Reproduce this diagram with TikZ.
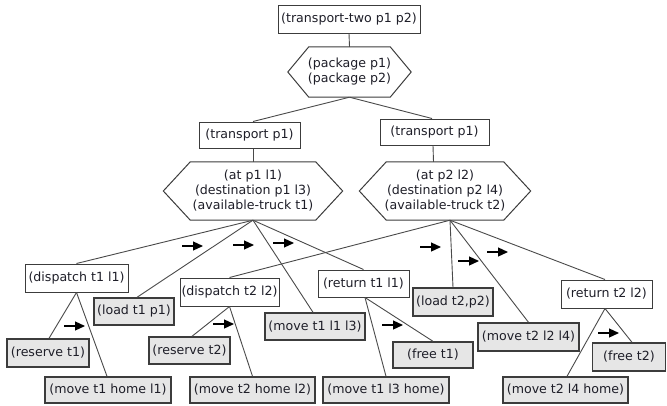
\documentclass[tikz,border=0pt]{standalone}
\usepackage{fontspec}
\setmainfont{DejaVu Sans}
\usetikzlibrary{arrows.meta}
\definecolor{boxline}{HTML}{3C3C3C}
\definecolor{linkc}{HTML}{4A4A4A}
\definecolor{grayfill}{HTML}{E6E6E6}
\definecolor{txt}{HTML}{1E1E28}
\tikzset{
  base/.style={rectangle, inner sep=0pt, text=txt, align=center,
    font=\fontsize{12.6}{15}\selectfont},
  wbox/.style={base, draw=boxline, line width=1pt, fill=white, minimum height=27},
  gbox/.style={base, draw=boxline, line width=1.4pt, fill=grayfill, minimum height=27},
  hexnode/.style={base},
  link/.style={draw=linkc, line width=0.9pt},
  ordarrow/.style={line width=1.2pt, -{Triangle[length=10pt,width=9pt]}},
}
\newcommand\drawhex[2]{%
  \draw[boxline, line width=1pt, fill=white]
    (#1.north west) -- (#1.north east) -- ([xshift=#2]#1.east) --
    (#1.south east) -- (#1.south west) -- ([xshift=-#2]#1.west) -- cycle;}
\begin{document}
\begin{tikzpicture}[x=1pt,y=-1pt]
\useasboundingbox (0,0) rectangle (667,405);
% hexagon nodes (invisible boxes, hexagon drawn around)
\node[hexnode, minimum width=81, minimum height=50] (pkg) at (349.5,72) {};
\node[hexnode, minimum width=125, minimum height=58] (hexL) at (253,191) {};
\node[hexnode, minimum width=117, minimum height=58] (hexR) at (445,191) {};
\drawhex{pkg}{21}
\drawhex{hexL}{27}
\drawhex{hexR}{27}
\node[hexnode] at (pkg) {(package p1)\\(package p2)};
\node[hexnode] at (hexL) {(at p1 l1)\\(destination p1 l3)\\(available-truck t1)};
\node[hexnode] at (hexR) {(at p2 l2)\\(destination p2 l4)\\(available-truck t2)};
% boxes
\node[wbox, minimum width=142, minimum height=28] (root) at (349,19) {(transport-two p1 p2)};
\node[wbox, minimum width=101, minimum height=26] (tL) at (249.5,135) {(transport p1)};
\node[wbox, minimum width=109, minimum height=26] (tR) at (434.5,132) {(transport p1)};
\node[wbox, minimum width=103, minimum height=28] (d1) at (76.5,278) {(dispatch t1 l1)};
\node[gbox, minimum width=80] (load1) at (134,311.5) {(load t1 p1)};
\node[wbox, minimum width=99, minimum height=28] (d2) at (229.5,292) {(dispatch t2 l2)};
\node[gbox, minimum width=82, minimum height=28] (res1) at (48,353) {(reserve t1)};
\node[gbox, minimum width=81] (res2) at (189.5,350.5) {(reserve t2)};
\node[gbox, minimum width=126, minimum height=26] (mh1) at (108,390) {(move t1 home l1)};
\node[gbox, minimum width=125, minimum height=26] (mh2) at (252.5,390) {(move t2 home l2)};
\node[gbox, minimum width=100] (m13) at (315,326.5) {(move t1 l1 l3)};
\node[wbox, minimum width=91] (ret1) at (363.5,283.5) {(return t1 l1)};
\node[gbox, minimum width=80, minimum height=28] (load2) at (453,302) {(load t2,p2)};
\node[gbox, minimum width=80, minimum height=26] (free1) at (433,355) {(free t1)};
\node[gbox, minimum width=126, minimum height=26] (m3h) at (386,390) {(move t1 l3 home)};
\node[gbox, minimum width=101, minimum height=28] (m24) at (528.5,337) {(move t2 l2 l4)};
\node[wbox, minimum width=91, minimum height=28] (ret2) at (606.5,294) {(return t2 l2)};
\node[gbox, minimum width=73, minimum height=28] (free2) at (629,357) {(free t2)};
\node[gbox, minimum width=125, minimum height=26] (m4h) at (565.5,390) {(move t2 l4 home)};
% connectors
\begin{scope}[on background layer/.style={}]
\path[link] (root.south) -- (pkg.north);
\path[link] (pkg.south) -- ([xshift=3.5pt]tL.north);
\path[link] (pkg.south) -- ([xshift=-2.5pt]tR.north);
\path[link] ([xshift=3.5pt]tL.south) -- (hexL.north);
\path[link] ([xshift=-1.5pt]tR.south) -- ([xshift=-11.5pt]hexR.north);
\path[link] (hexL.south) -- (d1.north);
\path[link] (hexL.south) -- ([xshift=3pt]load1.north);
\path[link] (hexL.south) -- ([xshift=-2pt]m13.north);
\path[link] (hexL.south) -- (ret1.north);
\path[link] ([xshift=5pt]hexR.south) -- (d2.north);
\path[link] ([xshift=5pt]hexR.south) -- (load2.north);
\path[link] ([xshift=5pt]hexR.south) -- (m24.north);
\path[link] ([xshift=5pt]hexR.south) -- ([xshift=-1.5pt]ret2.north);
\path[link] (d1.south) -- ([xshift=1pt]res1.north);
\path[link] (d1.south) -- ([xshift=-1pt]mh1.north);
\path[link] (d2.south) -- ([xshift=2.5pt]res2.north);
\path[link] (d2.south) -- (mh2.north);
\path[link] ([xshift=1.5pt]ret1.south) -- (free1.north);
\path[link] ([xshift=1.5pt]ret1.south) -- (m3h.north);
\path[link] ([xshift=-1.5pt]ret2.south) -- ([xshift=3pt]free2.north);
\path[link] ([xshift=-1.5pt]ret2.south) -- ([xshift=1.5pt]m4h.north);
\end{scope}
% ordering arrows
\coordinate (a1) at (182,246);
\coordinate (a2) at (233,245);
\coordinate (a3) at (273,243);
\coordinate (a4) at (64,326);
\coordinate (a5) at (213,324);
\coordinate (a6) at (420,247);
\coordinate (a7) at (458,261);
\coordinate (a8) at (487,252);
\coordinate (a9) at (382,325);
\coordinate (a10) at (598,333);
\foreach \a in {a1,a2,a3,a4,a5,a6,a7,a8,a9,a10}
  \draw[ordarrow] (\a) -- ++(21,0);
\end{tikzpicture}
\end{document}
